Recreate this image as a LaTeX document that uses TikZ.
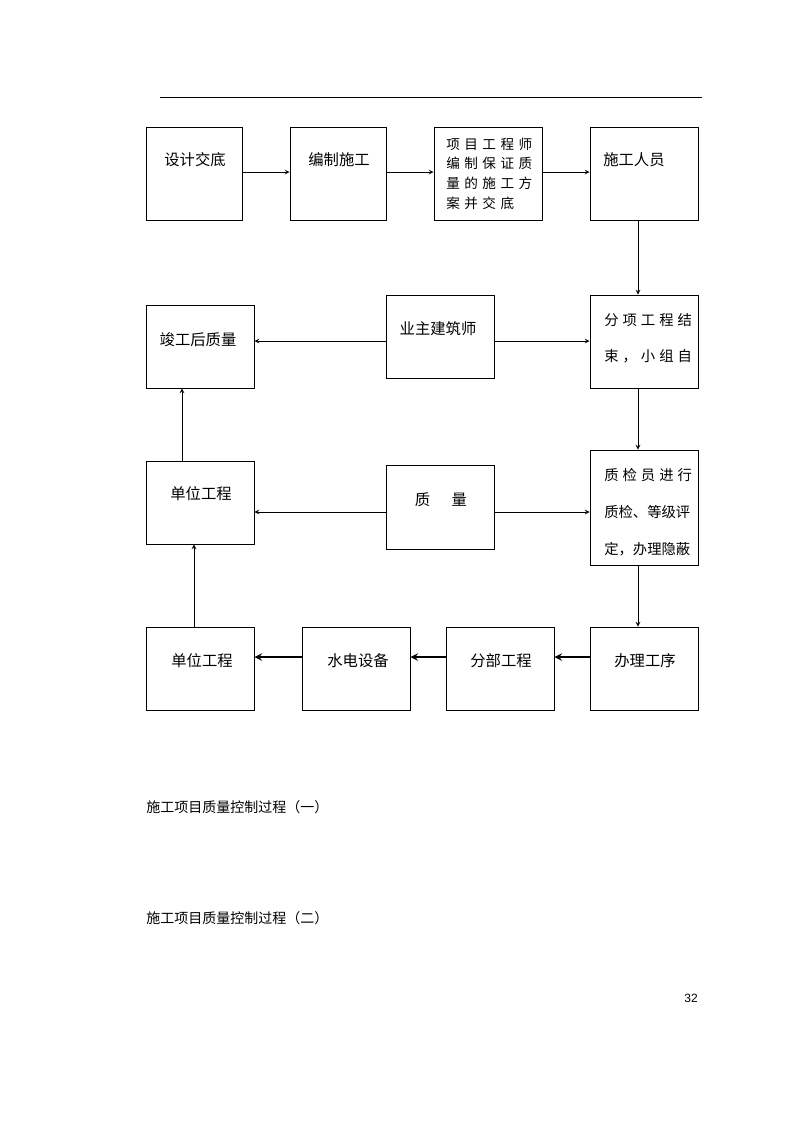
\documentclass[tikz,border=0pt]{standalone}
\usepackage{fontspec}
\setmainfont{Liberation Sans}
\newfontfamily\cjk{Noto Sans CJK SC}
\newfontfamily\cjkspaced[LetterSpace=28]{Noto Sans CJK SC}
\newfontfamily\cjkwide[LetterSpace=33]{Noto Sans CJK SC}
\usetikzlibrary{arrows}
\tikzstyle{box} = [rectangle, draw=black, line width=0.7pt, inner sep=0pt]
\tikzstyle{txt} = [inner sep=0pt, font=\cjk\fontsize{11.5}{14}\selectfont]
\tikzstyle{arrow} = [line width=0.6pt,->,>=stealth]
\tikzstyle{thickarrow} = [line width=1.5pt,->,>=stealth]

\begin{document}
\begin{tikzpicture}[x=0.75pt, y=-0.75pt]
    \useasboundingbox (0,0) rectangle (794,1123);
    \draw[line width=0.6pt] (160,97) -- (702,97);

    % first row
    \node (1) [box, minimum width=72pt, minimum height=69.75pt] at (194,173.5) {};
    \node (2) [box, minimum width=72pt, minimum height=69.75pt] at (338,173.5) {};
    \node (3) [box, minimum width=81pt, minimum height=69.75pt] at (488,173.5) {};
    \node (4) [box, minimum width=81pt, minimum height=69.75pt] at (644,173.5) {};
    \node (t1) [txt] at (195,160) {设计交底};
    \node (t2) [txt] at (339,160) {编制施工};
    \node (t3) [txt, anchor=west, align=left, font=\cjkwide\fontsize{10.2}{14.8}\selectfont] at (446,173.5) {项目工程师\\编制保证质\\量的施工方\\案并交底};
    \node (t4) [txt, anchor=west] at (603,160) {施工人员};

    % second row
    \node (5) [box, minimum width=81pt, minimum height=62.25pt] at (200,346.5) {};
    \node (6) [box, minimum width=81pt, minimum height=62.25pt] at (440,336.5) {};
    \node (7) [box, minimum width=81pt, minimum height=69.75pt] at (644,341.5) {};
    \node (t5) [txt] at (198,340) {竣工后质量};
    \node (t6) [txt] at (438,329) {业主建筑师};
    \node (t7) [txt, anchor=west, align=left, font=\cjk\fontsize{10.75}{27}\selectfont] at (604,338) {{\cjkspaced 分项工程结}\\{\cjkspaced 束，小组自}};

    % third row
    \node (8) [box, minimum width=81pt, minimum height=62.25pt] at (200,502.5) {};
    \node (9) [box, minimum width=81pt, minimum height=63pt] at (440,507) {};
    \node (10) [box, minimum width=81pt, minimum height=86.25pt] at (644,507.5) {};
    \node (t8) [txt] at (201,494) {单位工程};
    \node (t9) [txt] at (441,500) {质\hspace{1.4em}量};
    \node (t10) [txt, anchor=west, align=left, font=\cjk\fontsize{10.75}{27.75}\selectfont] at (604,512) {{\cjkspaced 质检员进行}\\质检、等级评\\定，办理隐蔽};

    % fourth row
    \node (11) [box, minimum width=81pt, minimum height=62.25pt] at (200,668.5) {};
    \node (12) [box, minimum width=81pt, minimum height=62.25pt] at (356,668.5) {};
    \node (13) [box, minimum width=81pt, minimum height=62.25pt] at (500,668.5) {};
    \node (14) [box, minimum width=81pt, minimum height=62.25pt] at (644,668.5) {};
    \node (t11) [txt] at (202,661) {单位工程};
    \node (t12) [txt] at (358,661) {水电设备};
    \node (t13) [txt] at (501,661) {分部工程};
    \node (t14) [txt] at (645,661) {办理工序};

    % connectors
    \coordinate (r1) at ([yshift=1.1pt]1.east);
    \coordinate (r2) at ([yshift=1.1pt]2.east);
    \coordinate (r3) at ([yshift=1.1pt]3.east);
    \draw[arrow] (r1) -- (r1 -| 2.west);
    \draw[arrow] (r2) -- (r2 -| 3.west);
    \draw[arrow] (r3) -- (r3 -| 4.west);
    \draw[arrow] ([xshift=-4.5pt]4.south) -- ([xshift=-4.5pt]7.north);
    \coordinate (m1) at ([yshift=-3.4pt]6.west);
    \coordinate (m2) at ([yshift=-3.4pt]6.east);
    \draw[arrow] (m1) -- (m1 -| 5.east);
    \draw[arrow] (m2) -- (m2 -| 7.west);
    \draw[arrow] ([xshift=-4.5pt]7.south) -- ([xshift=-4.5pt]10.north);
    \coordinate (q1) at ([yshift=-3.75pt]9.west);
    \coordinate (q2) at ([yshift=-3.75pt]9.east);
    \draw[arrow] (q1) -- (q1 -| 8.east);
    \draw[arrow] (q2) -- (q2 -| 10.west);
    \draw[arrow] ([xshift=-4.5pt]10.south) -- ([xshift=-4.5pt]14.north);
    \coordinate (w1) at ([yshift=8.6pt]14.west);
    \coordinate (w2) at ([yshift=8.6pt]13.west);
    \coordinate (w3) at ([yshift=8.6pt]12.west);
    \draw[thickarrow] (w1) -- (w1 -| 13.east);
    \draw[thickarrow] (w2) -- (w2 -| 12.east);
    \draw[thickarrow] (w3) -- (w3 -| 11.east);
    \draw[arrow] ([xshift=-4.5pt]11.north) -- ([xshift=-4.5pt]8.south);
    \draw[arrow] ([xshift=-13.5pt]8.north) -- ([xshift=-13.5pt]5.south);

    % captions
    \node (c1) [anchor=west, inner sep=0pt, font=\cjk\fontsize{10.5}{12}\selectfont] at (146,807) {施工项目质量控制过程（一）};
    \node (c2) [anchor=west, inner sep=0pt, font=\cjk\fontsize{10.5}{12}\selectfont] at (146,918) {施工项目质量控制过程（二）};
    \node (pg) [anchor=east, inner sep=0pt, font=\fontsize{9}{11}\selectfont] at (698,998) {32};
\end{tikzpicture}
\end{document}
